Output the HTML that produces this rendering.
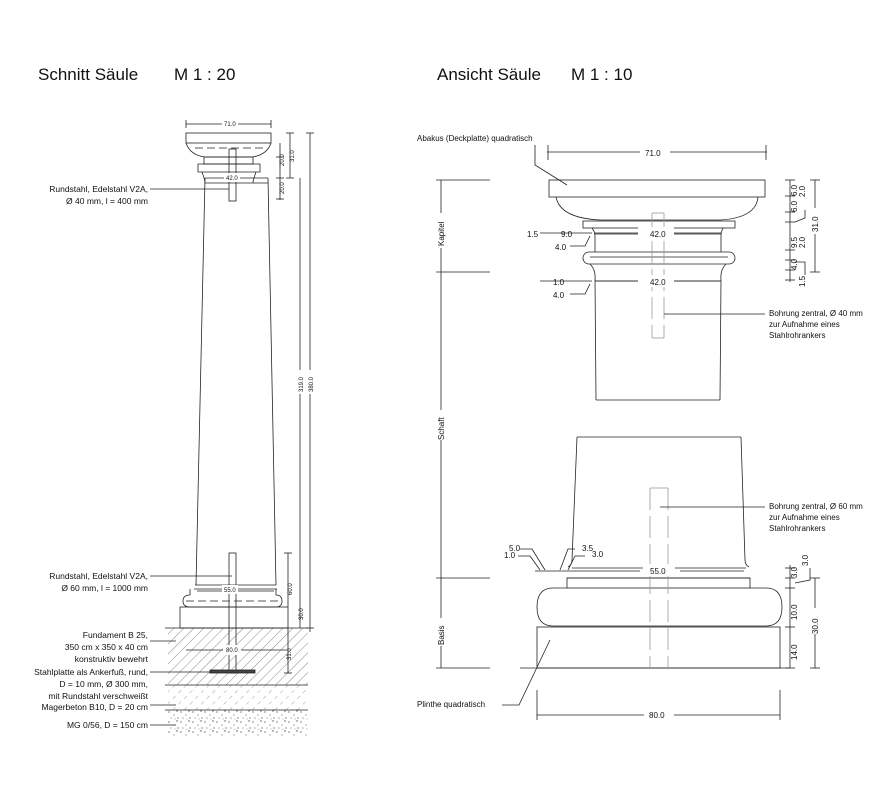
<!DOCTYPE html>
<html><head><meta charset="utf-8"><style>
html,body{margin:0;padding:0;background:#fff;}
svg{display:block;font-family:"Liberation Sans",Arial,sans-serif;}
</style></head><body>
<svg width="882" height="787" viewBox="0 0 882 787" xmlns="http://www.w3.org/2000/svg">
<defs>
<pattern id="h" width="7" height="7" patternUnits="userSpaceOnUse" patternTransform="rotate(45)">
<line x1="0" y1="0" x2="0" y2="7" stroke="#555" stroke-width="0.7"/></pattern>
<pattern id="h2" width="8" height="8" patternUnits="userSpaceOnUse" patternTransform="rotate(45)">
<line x1="0" y1="0" x2="0" y2="4" stroke="#777" stroke-width="0.7"/></pattern>
<pattern id="g" width="12" height="10" patternUnits="userSpaceOnUse">
<circle cx="1" cy="2" r="0.6" fill="#333"/><circle cx="6" cy="5" r="0.5" fill="#333"/><circle cx="9" cy="1" r="0.7" fill="#555"/><circle cx="3" cy="8" r="0.5" fill="#333"/><circle cx="10" cy="8" r="0.6" fill="#444"/><circle cx="7" cy="9" r="0.4" fill="#333"/></pattern>
</defs>
<g fill="#111" font-size="17">
<text x="38" y="80">Schnitt Säule</text><text x="174" y="80">M 1 : 20</text>
<text x="437" y="80">Ansicht Säule</text><text x="571" y="80">M 1 : 10</text>
</g>
<g stroke="#222" stroke-width="0.8" fill="none">
<!-- LEFT column -->
<line x1="186" y1="124" x2="271" y2="124"/><line x1="186" y1="120" x2="186" y2="128"/><line x1="271" y1="120" x2="271" y2="128"/>
<rect x="186" y="133" width="85" height="10"/>
<path d="M186 143 Q190 155 205 157 L252 157 Q267 155 271 143"/>
<line x1="195" y1="148" x2="263" y2="148" stroke-dasharray="8 4"/>
<rect x="204" y="157" width="49" height="7"/>
<path d="M198 164 L260 164 L260 172 L198 172 Z"/>
<path d="M202 172 Q205 180 205 183 M256 172 Q253 180 253 183"/>
<line x1="205" y1="183" x2="268" y2="183" />
<path d="M205 178 L196 585 M268 178 L276 585"/>
<rect x="229" y="149" width="7" height="52"/>
<line x1="150" y1="189" x2="229" y2="189"/>
<line x1="205" y1="178" x2="268" y2="178"/>
<line x1="195" y1="585" x2="276" y2="585"/><line x1="194" y1="589" x2="277" y2="589"/>
<path d="M190 589 L190 595 Q183 595 183 601 Q183 607 190 607 L276 607 Q282 607 282 601 Q282 595 276 595 L276 589"/>
<line x1="186" y1="601" x2="280" y2="601" stroke-dasharray="8 4"/>
<rect x="180" y="607" width="108" height="21"/>
<rect x="229" y="553" width="7" height="120"/>
<line x1="150" y1="576" x2="232" y2="576"/>
<line x1="197" y1="591" x2="274" y2="591"/>
<!-- foundation -->
<rect x="168" y="628" width="140" height="57" fill="url(#h)" stroke="none"/>
<rect x="168" y="685" width="140" height="25" fill="url(#h2)" stroke="none"/>
<rect x="168" y="710" width="140" height="27" fill="url(#g)" stroke="none"/>
<line x1="165" y1="628" x2="308" y2="628"/>
<line x1="165" y1="685" x2="308" y2="685"/>
<line x1="165" y1="710" x2="308" y2="710"/>
<rect x="210" y="670" width="45" height="3" fill="#444"/>
<line x1="186" y1="650" x2="286" y2="650"/>
<line x1="150" y1="641" x2="176" y2="641"/>
<line x1="150" y1="672" x2="210" y2="672"/>
<line x1="150" y1="705" x2="176" y2="705"/>
<line x1="150" y1="725" x2="176" y2="725"/>
<!-- left dims -->
<line x1="280" y1="143" x2="280" y2="200"/><line x1="276" y1="157" x2="284" y2="157"/><line x1="276" y1="178" x2="284" y2="178"/><line x1="276" y1="199" x2="284" y2="199"/>
<line x1="290" y1="133" x2="290" y2="178"/><line x1="286" y1="133" x2="294" y2="133"/><line x1="286" y1="178" x2="294" y2="178"/>
<line x1="300" y1="178" x2="300" y2="628"/>
<line x1="310" y1="133" x2="310" y2="632"/><line x1="306" y1="133" x2="314" y2="133"/><line x1="306" y1="628" x2="314" y2="628"/>
<line x1="288" y1="553" x2="288" y2="607"/><line x1="284" y1="553" x2="292" y2="553"/>
<line x1="288" y1="628" x2="288" y2="673"/><line x1="284" y1="673" x2="292" y2="673"/>

<!-- RIGHT -->
<line x1="547" y1="152" x2="767" y2="152"/><line x1="548" y1="145" x2="548" y2="160"/><line x1="766" y1="145" x2="766" y2="160"/>
<polyline points="535,145 535,165 567,185"/>
<rect x="549" y="180" width="216" height="17"/>
<path d="M556 197 Q560 218 600 220 L720 220 Q756 218 758 197"/>
<rect x="583" y="221" width="152" height="7"/>
<path d="M592 228 Q595 232 595 236 L595 252 M723 228 Q721 232 721 236 L721 252"/>
<line x1="595" y1="234" x2="721" y2="234"/>
<rect x="583" y="252" width="152" height="12" rx="6"/>
<line x1="590" y1="257" x2="728" y2="257"/>
<path d="M590 264 Q596 270 595 280 M726 264 Q720 270 721 280"/>
<line x1="595" y1="281" x2="721" y2="281"/>
<path d="M595 280 L596 400 M721 280 L720 400"/>
<line x1="596" y1="400" x2="720" y2="400"/>
<line x1="577" y1="437" x2="741" y2="437"/>
<path d="M577 437 L572 560 Q572 565 568 567 M741 437 L745 560 Q745 565 749 567"/>
<line x1="572" y1="568" x2="746" y2="568"/>
<rect x="567" y="578" width="183" height="10"/>
<line x1="567" y1="578" x2="750" y2="578"/>
<path d="M567 588 L553 588 Q537 588 537 607 Q537 626 553 626 L766 626 Q782 626 782 607 Q782 588 766 588 L750 588"/>
<rect x="537" y="627" width="243" height="41"/>
<line x1="520" y1="668" x2="790" y2="668"/>
<!-- bore dashed -->
<g stroke="#999" stroke-dasharray="22 6">
<line x1="652" y1="213" x2="652" y2="338"/><line x1="664" y1="213" x2="664" y2="338"/>
<line x1="650" y1="488" x2="650" y2="668"/><line x1="668" y1="488" x2="668" y2="668"/>
</g>
<line x1="652" y1="213" x2="664" y2="213" stroke="#999"/><line x1="652" y1="338" x2="664" y2="338" stroke="#999"/>
<line x1="650" y1="488" x2="668" y2="488" stroke="#999"/>
<line x1="664" y1="314" x2="765" y2="314"/>
<line x1="660" y1="507" x2="765" y2="507"/>
<line x1="595" y1="233" x2="640" y2="233"/><line x1="670" y1="233" x2="721" y2="233"/>
<line x1="595" y1="281" x2="640" y2="281"/><line x1="670" y1="281" x2="721" y2="281"/>
<line x1="540" y1="233" x2="592" y2="233"/>
<line x1="540" y1="281" x2="592" y2="281"/>
<polyline points="570,246 585,246 590,236"/>
<polyline points="570,294 585,294 590,284"/>
<line x1="535" y1="571" x2="640" y2="571"/><line x1="680" y1="571" x2="744" y2="571"/>
<polyline points="520,549 532,549 545,570"/>
<polyline points="518,556 530,556 540,570"/>
<polyline points="575,549 568,549 560,570"/>
<polyline points="585,556 575,556 568,570"/>
<line x1="537" y1="715" x2="780" y2="715"/><line x1="537" y1="690" x2="537" y2="720"/><line x1="780" y1="690" x2="780" y2="720"/>
<polyline points="502,705 519,705 550,640"/>
<!-- side axis -->
<line x1="441" y1="180" x2="441" y2="668"/>
<line x1="436" y1="180" x2="490" y2="180"/><line x1="436" y1="272" x2="490" y2="272"/><line x1="436" y1="578" x2="490" y2="578"/><line x1="436" y1="668" x2="490" y2="668"/>
<!-- right dims -->
<line x1="790" y1="180" x2="790" y2="282"/>
<line x1="785" y1="180" x2="795" y2="180"/><line x1="785" y1="196" x2="795" y2="196"/><line x1="785" y1="212" x2="795" y2="212"/><line x1="785" y1="222" x2="795" y2="222"/><line x1="785" y1="250" x2="795" y2="250"/><line x1="785" y1="260" x2="795" y2="260"/><line x1="785" y1="270" x2="795" y2="270"/><line x1="785" y1="280" x2="795" y2="280"/>
<line x1="815" y1="180" x2="815" y2="272"/><line x1="810" y1="180" x2="820" y2="180"/><line x1="810" y1="272" x2="820" y2="272"/>
<polyline points="795,222 805,218 805,210"/><polyline points="795,262 805,262 805,275"/>
<line x1="790" y1="565" x2="790" y2="668"/>
<line x1="785" y1="568" x2="795" y2="568"/><line x1="785" y1="578" x2="795" y2="578"/><line x1="785" y1="588" x2="795" y2="588"/><line x1="785" y1="627" x2="795" y2="627"/><line x1="785" y1="668" x2="795" y2="668"/>
<polyline points="795,583 810,580 810,568"/>
<line x1="815" y1="578" x2="815" y2="668"/><line x1="810" y1="578" x2="820" y2="578"/><line x1="810" y1="668" x2="820" y2="668"/>
</g>
<g fill="#fff" stroke="none">
<rect x="222" y="119" width="16" height="9"/><rect x="224" y="173" width="16" height="9"/><rect x="222" y="585" width="16" height="9"/><rect x="223" y="645" width="18" height="10"/>
<rect x="296" y="370" width="8" height="24"/><rect x="306" y="370" width="8" height="24"/>
<rect x="640" y="146" width="30" height="12"/><rect x="638" y="227" width="36" height="12"/><rect x="638" y="275" width="36" height="12"/><rect x="643" y="564" width="32" height="12"/><rect x="644" y="708" width="30" height="12"/>
<rect x="810" y="208" width="10" height="26"/><rect x="810" y="608" width="10" height="26"/>
<rect x="436" y="213" width="10" height="35"/><rect x="436" y="410" width="10" height="30"/><rect x="436" y="618" width="10" height="28"/>
</g>
<g fill="#111" font-size="6">
<text x="224" y="126">71.0</text><text x="226" y="180">42.0</text><text x="224" y="592">55.0</text><text x="226" y="652">80.0</text>
<text transform="translate(284,166) rotate(-90)">20.0</text><text transform="translate(284,194) rotate(-90)">20.0</text>
<text transform="translate(294,162) rotate(-90)">31.0</text>
<text transform="translate(303,392) rotate(-90)">319.0</text><text transform="translate(313,392) rotate(-90)">380.0</text>
<text transform="translate(292,595) rotate(-90)">60.0</text><text transform="translate(303,620) rotate(-90)">30.0</text><text transform="translate(291,660) rotate(-90)">31.0</text>
</g>
<g fill="#111" font-size="8.5" text-anchor="end">
<text x="148" y="192">Rundstahl, Edelstahl V2A,</text><text x="148" y="204">Ø 40 mm, l = 400 mm</text>
<text x="148" y="579">Rundstahl, Edelstahl V2A,</text><text x="148" y="591">Ø 60 mm, l = 1000 mm</text>
<text x="148" y="638">Fundament B 25,</text><text x="148" y="650">350 cm x 350 x 40 cm</text><text x="148" y="662">konstruktiv bewehrt</text>
<text x="148" y="675">Stahlplatte als Ankerfuß, rund,</text><text x="148" y="687">D = 10 mm, Ø 300 mm,</text><text x="148" y="699">mit Rundstahl verschweißt</text>
<text x="148" y="710">Magerbeton B10, D = 20 cm</text><text x="148" y="728">MG 0/56, D = 150 cm</text>
</g>
<g fill="#111" font-size="8">
<text x="417" y="141">Abakus (Deckplatte) quadratisch</text>
<text x="769" y="316">Bohrung zentral,  Ø 40 mm</text><text x="769" y="327">zur Aufnahme eines</text><text x="769" y="338">Stahlrohrankers</text>
<text x="769" y="509">Bohrung zentral,  Ø 60 mm</text><text x="769" y="520">zur Aufnahme eines</text><text x="769" y="531">Stahlrohrankers</text>
<text x="417" y="707">Plinthe quadratisch</text>
<text x="645" y="156">71.0</text><text x="650" y="237">42.0</text><text x="650" y="285">42.0</text><text x="650" y="574">55.0</text><text x="649" y="718">80.0</text>
<text x="527" y="237">1.5</text><text x="561" y="237">9.0</text><text x="555" y="250">4.0</text>
<text x="553" y="285">1.0</text><text x="553" y="298">4.0</text>
<text x="509" y="551">5.0</text><text x="504" y="558">1.0</text><text x="582" y="551">3.5</text><text x="592" y="557">3.0</text>
<text transform="translate(444,246) rotate(-90)">Kapitel</text><text transform="translate(444,440) rotate(-90)">Schaft</text><text transform="translate(444,645) rotate(-90)">Basis</text>
<text transform="translate(805,197) rotate(-90)">2.0</text><text transform="translate(797,196) rotate(-90)">6.0</text><text transform="translate(797,212) rotate(-90)">6.0</text>
<text transform="translate(797,248) rotate(-90)">9.5</text><text transform="translate(805,248) rotate(-90)">2.0</text><text transform="translate(818,232) rotate(-90)">31.0</text>
<text transform="translate(797,270) rotate(-90)">4.0</text><text transform="translate(805,287) rotate(-90)">1.5</text>
<text transform="translate(797,578) rotate(-90)">3.0</text><text transform="translate(808,566) rotate(-90)">3.0</text>
<text transform="translate(797,620) rotate(-90)">10.0</text><text transform="translate(818,634) rotate(-90)">30.0</text><text transform="translate(797,660) rotate(-90)">14.0</text>
</g>
</svg>
</body></html>
